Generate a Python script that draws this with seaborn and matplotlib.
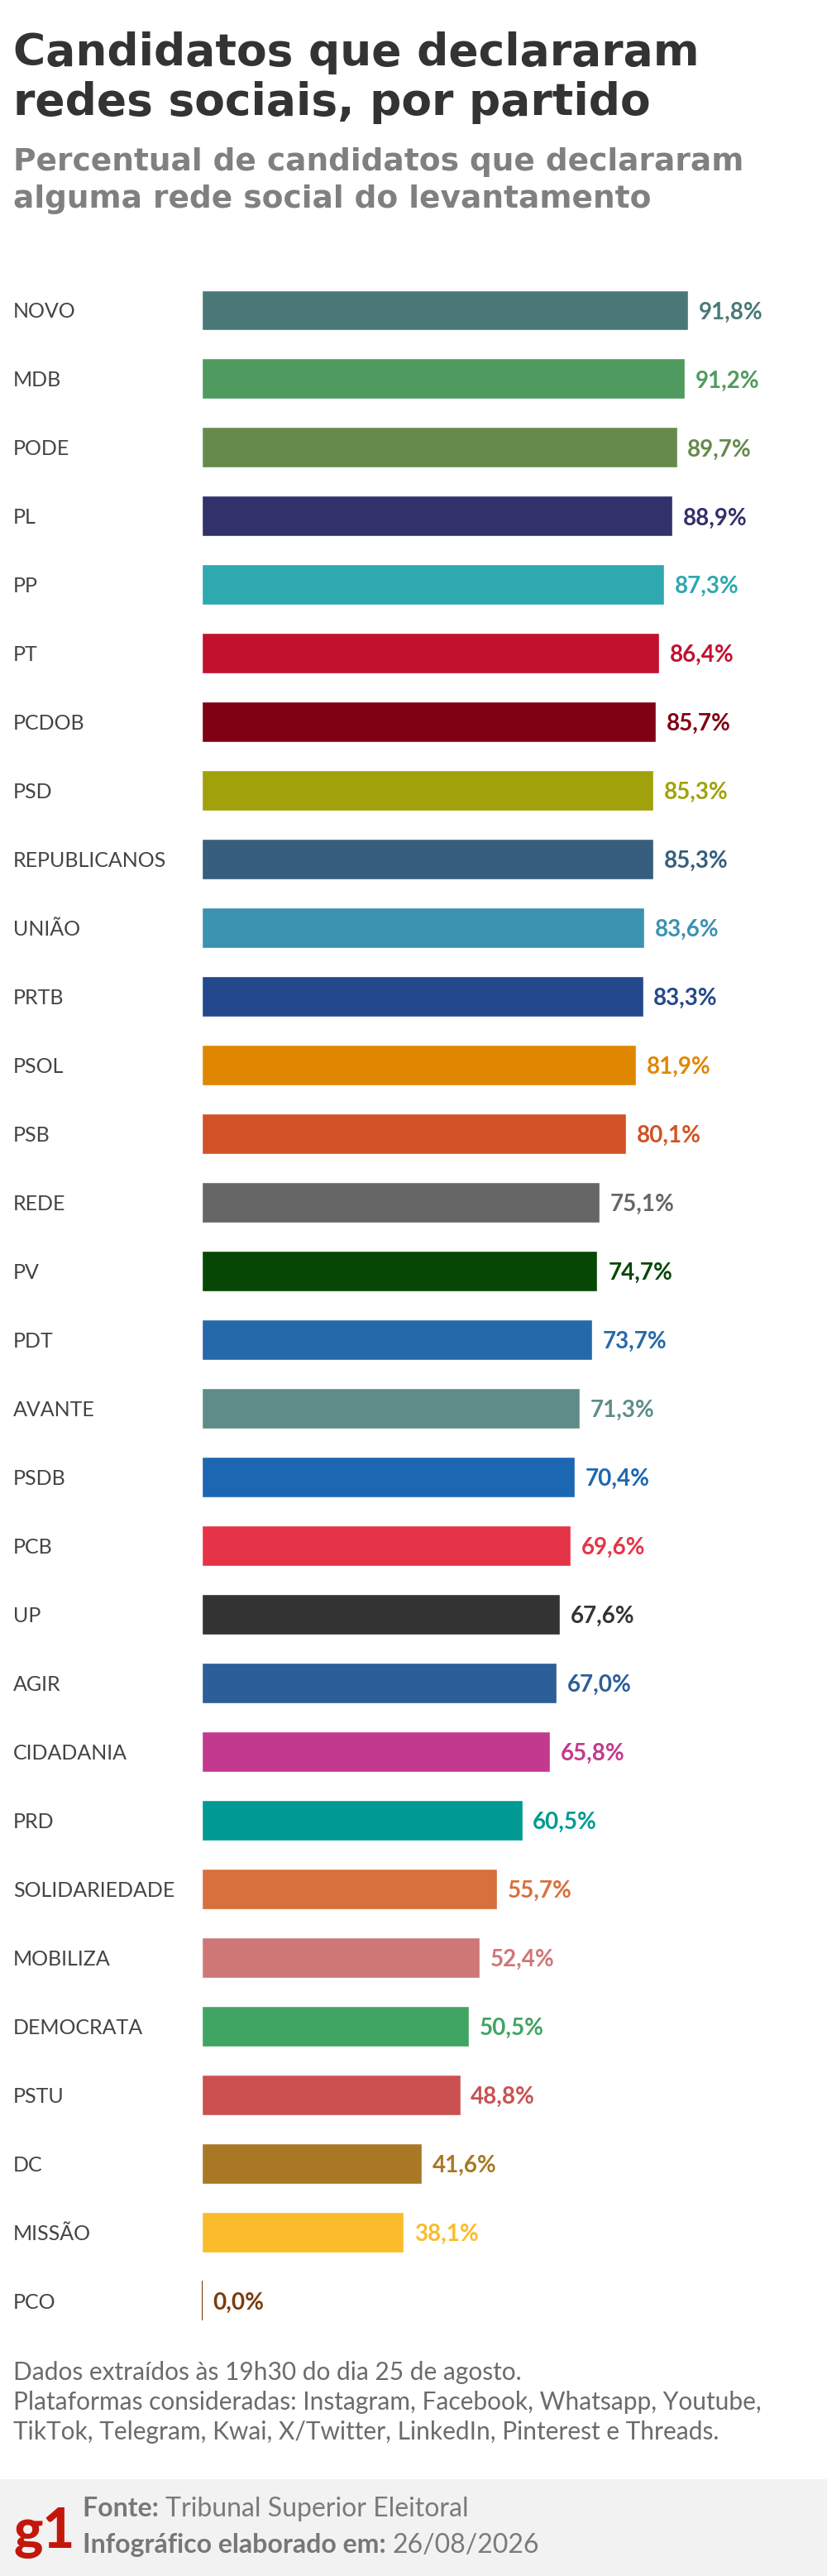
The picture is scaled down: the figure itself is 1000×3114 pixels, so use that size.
import matplotlib
matplotlib.use('Agg')
import matplotlib.pyplot as plt
import matplotlib.transforms as mtransforms
from matplotlib.patches import Rectangle
import pandas as pd
import seaborn as sns

# party names, top to bottom
partidos = ['NOVO', 'MDB', 'PODE', 'PL', 'PP', 'PT', 'PCDOB', 'PSD',
            'REPUBLICANOS', 'UNIÃO', 'PRTB', 'PSOL', 'PSB', 'REDE', 'PV',
            'PDT', 'AVANTE', 'PSDB', 'PCB', 'UP', 'AGIR', 'CIDADANIA', 'PRD',
            'SOLIDARIEDADE', 'MOBILIZA', 'DEMOCRATA', 'PSTU', 'DC', 'MISSÃO',
            'PCO']
# share of candidates that declared a social network (%)
percentuais = [91.8, 91.2, 89.7, 88.9, 87.3, 86.4, 85.7, 85.3,
               85.3, 83.6, 83.3, 81.9, 80.1, 75.1, 74.7,
               73.7, 71.3, 70.4, 69.6, 67.6, 67.0, 65.8, 60.5,
               55.7, 52.4, 50.5, 48.8, 41.6, 38.1,
               0.0]
cores = ['#4a7876', '#4f9a5f', '#668a4b', '#31316b', '#2fa8b0', '#c1112f',
         '#800014', '#a1a20b', '#375e7c', '#3b92b1', '#23498c', '#df8700',
         '#d15226', '#666666', '#064706', '#2569ab', '#5f8c89', '#1c67b1',
         '#e53447', '#333333', '#2c5e98', '#c23a8e', '#009a93', '#d7703b',
         '#cf7676', '#40a462', '#cb5151', '#a87824', '#fbbc2b', '#7b3c0c']

titulo = ['Candidatos que declararam', 'redes sociais, por partido']
subtitulo = ['Percentual de candidatos que declararam',
             'alguma rede social do levantamento']
notas = ['Dados extraídos às 19h30 do dia 25 de agosto.',
         'Plataformas consideradas: Instagram, Facebook, Whatsapp, Youtube,',
         'TikTok, Telegram, Kwai, X/Twitter, LinkedIn, Pinterest e Threads.']
rodape = [('Fonte: ', 'Tribunal Superior Eleitoral'),
          ('Infográfico elaborado em: ', '26/08/2026')]

df = pd.DataFrame({'partido': partidos, 'pct': percentuais})

sns.set_theme(style='white')
plt.rcParams['font.family'] = ['Lato', 'DejaVu Sans']

W, H = 1000, 3114
fig = plt.figure(figsize=(W / 100, H / 100), dpi=100)
fig.patch.set_facecolor('white')


def fy(px):
    # pixel from top -> figure fraction
    return 1 - px / H


# bar area: first bar centre at 375px, step 83px
top_px, bot_px = 375 - 41.5, 2781 + 41.5
ax = fig.add_axes([0.244, fy(bot_px), 0.756, (bot_px - top_px) / H])
sns.barplot(data=df, x='pct', y='partido', hue='partido', palette=cores,
            legend=False, width=0.59, saturation=1, ax=ax, orient='h')
ax.set_xlim(0, 756 / 6.405)
ax.set_ylim(len(partidos) - 0.5, -0.5)
ax.axis('off')

# zero bar shown as a thin line
pco = ax.patches[-1]
pco.set_edgecolor(cores[-1])
pco.set_linewidth(1.6)

lab_tr = mtransforms.blended_transform_factory(fig.transFigure, ax.transData)
for i, (p, v) in enumerate(zip(partidos, percentuais)):
    ax.text(0.016, i, p, transform=lab_tr, ha='left', va='center_baseline',
            fontsize=18, fontweight='normal', color='#444444')
    ax.text(v + 2, i, f'{v:.1f}%'.replace('.', ','), ha='left',
            va='center_baseline', fontsize=20, fontweight='bold',
            color=cores[i])

# title and subtitle
for txt, b in zip(titulo, [79, 139]):
    fig.text(0.016, fy(b), txt, fontsize=38.5, fontweight='bold',
             family='DejaVu Sans', color='#333333', va='baseline', ha='left')
for txt, b in zip(subtitulo, [206, 251]):
    fig.text(0.016, fy(b), txt, fontsize=27, fontweight='bold',
             family='DejaVu Sans', color='#808080', va='baseline', ha='left')

# notes
for txt, b in zip(notas, [2877, 2913, 2949]):
    fig.text(0.016, fy(b), txt, fontsize=21.5, fontweight='normal',
             color='#6b6b6b', va='baseline', ha='left')

# footer band
fig.patches.append(Rectangle((0, 0), 1, (H - 2997) / H,
                             transform=fig.transFigure, facecolor='#f2f2f2',
                             edgecolor='none', zorder=0))
fig.text(0.016, fy(3080), 'g1', fontsize=48, fontweight='black',
         color='#c4170c', va='baseline', ha='left')
negritos = []
for (bold, light), b in zip(rodape, [3042, 3086]):
    t1 = fig.text(0.1, fy(b), bold, fontsize=23, fontweight='bold',
                  color='#777777', va='baseline', ha='left')
    negritos.append((t1, light, b))

fig.canvas.draw()
rend = fig.canvas.get_renderer()
for t1, light, b in negritos:
    x1 = t1.get_window_extent(rend).x1 / W
    fig.text(x1, fy(b), light, fontsize=23, fontweight='normal',
             color='#7a7a7a', va='baseline', ha='left')

fig.savefig('out.png', dpi=100, facecolor='white')
